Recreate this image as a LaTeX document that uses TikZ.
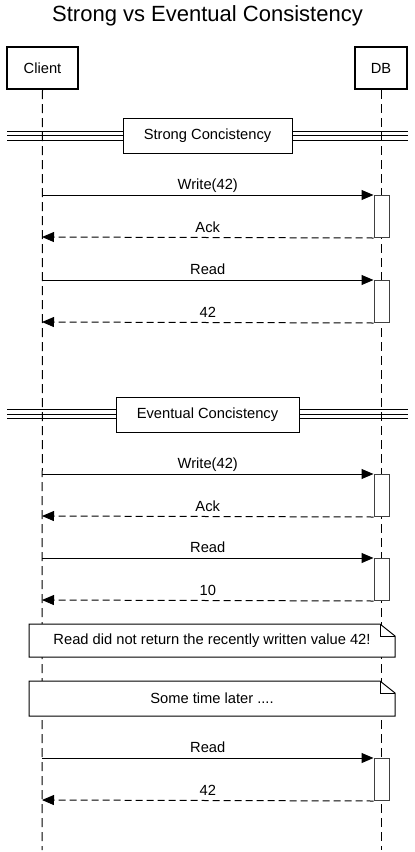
\documentclass[tikz,border=0pt]{standalone}
\usepackage{fontspec}
\setmainfont{Liberation Sans}
\usetikzlibrary{arrows.meta}
\tikzset{
  actor/.style={draw=black, line width=2pt, fill=white, inner sep=0pt, font=\fontsize{14.7}{17}\selectfont},
  lifeline/.style={draw=black, line width=1pt, dash pattern=on 9pt off 5pt},
  actbox/.style={draw=black!75, line width=1pt, fill=white, minimum width=15pt, minimum height=42pt, inner sep=0pt, anchor=north},
  msg/.style={draw=black, line width=1pt, -{Triangle[length=12pt,width=10pt]}},
  ret/.style={draw=black, line width=1pt, dash pattern=on 7pt off 4pt, -{Triangle[length=12pt,width=10pt]}},
  lbl/.style={font=\fontsize{14.7}{17}\selectfont, inner sep=0pt},
  mlbl/.style={lbl, anchor=base, yshift=5.5pt},
  sepbox/.style={draw=black, line width=1pt, fill=white, inner sep=0pt, minimum height=35pt, font=\fontsize{14.7}{17}\selectfont},
  sepline/.style={draw=black, line width=1pt},
  notebox/.style={draw=black, line width=1pt, fill=white}
}
\begin{document}
\begin{tikzpicture}[x=1pt,y=-1pt]
\useasboundingbox (0,0) rectangle (415,852);
\fill[white] (0,0) rectangle (415,852);
% title
\node[font=\fontsize{22}{26}\selectfont, inner sep=0pt] (title) at (207.5,16) {Strong vs Eventual Consistency};
% participants
\node[actor, minimum width=71pt, minimum height=42pt] (client) at (42.5,68) {Client};
\node[actor, minimum width=52pt, minimum height=42pt] (db) at (381,68) {DB};
\coordinate (cend) at (42,850);
\coordinate (dend) at (381,850);
\draw[lifeline] (client.south) -- (cend);
\draw[lifeline] (db.south) -- (dend);
% separators
\foreach \y in {131,135.5,140} {\draw[sepline] (7,\y) -- (408,\y);}
\node[sepbox, minimum width=169pt] (sep1) at (207.5,135.5) {Strong Concistency};
\foreach \y in {409.5,414,418.5} {\draw[sepline] (7,\y) -- (408,\y);}
\node[sepbox, minimum width=183pt] (sep2) at (207.5,414.5) {Eventual Concistency};
% Strong block
\node[actbox] (a1) at (381.5,195) {};
\node[actbox] (a2) at (381.5,280) {};
\coordinate (c1) at (42,195);
\coordinate (c2) at (42,237);
\coordinate (c3) at (42,280);
\coordinate (c4) at (42,322);
\draw[msg] (c1) -- node[mlbl] (l1) {Write(42)} (a1.north west);
\draw[ret] (a1.south west) -- node[mlbl] (l2) {Ack} (c2);
\draw[msg] (c3) -- node[mlbl] (l3) {Read} (a2.north west);
\draw[ret] (a2.south west) -- node[mlbl] (l4) {42} (c4);
% Eventual block
\node[actbox] (b1) at (381.5,474) {};
\node[actbox] (b2) at (381.5,558) {};
\coordinate (e1) at (42,474);
\coordinate (e2) at (42,516);
\coordinate (e3) at (42,558);
\coordinate (e4) at (42,600);
\draw[msg] (e1) -- node[mlbl] (m1) {Write(42)} (b1.north west);
\draw[ret] (b1.south west) -- node[mlbl] (m2) {Ack} (e2);
\draw[msg] (e3) -- node[mlbl] (m3) {Read} (b2.north west);
\draw[ret] (b2.south west) -- node[mlbl] (m4) {10} (e4);
% notes
\draw[notebox] (29,624) -- (380,624) -- (395,636) -- (395,657) -- (29,657) -- cycle;
\draw[line width=1pt] (380,624) -- (380,636) -- (395,636);
\node[lbl] (n1) at (212,640.5) {Read did not return the recently written value 42!};
\draw[notebox] (29,681) -- (380,681) -- (395,693) -- (395,716) -- (29,716) -- cycle;
\draw[line width=1pt] (380,681) -- (380,693) -- (395,693);
\node[lbl] (n2) at (212,698.5) {Some time later ....};
% final block
\node[actbox] (f1) at (381.5,758) {};
\coordinate (g1) at (42,758);
\coordinate (g2) at (42,800);
\draw[msg] (g1) -- node[mlbl] (k1) {Read} (f1.north west);
\draw[ret] (f1.south west) -- node[mlbl] (k2) {42} (g2);
\end{tikzpicture}
\end{document}
